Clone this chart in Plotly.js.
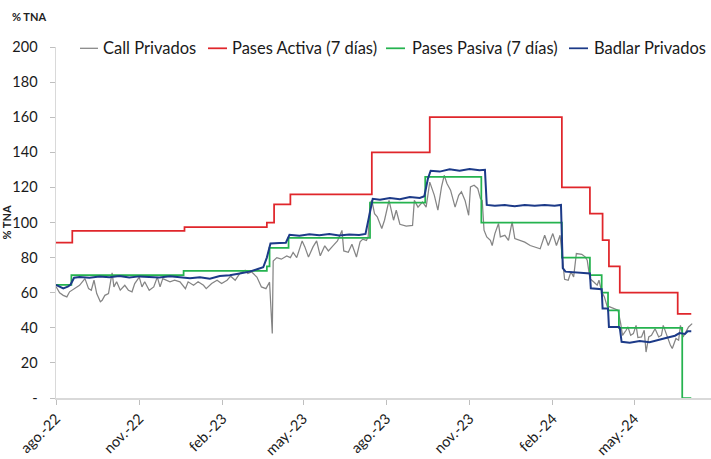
<!DOCTYPE html>
<html>
<head>
<meta charset="utf-8">
<script src="https://cdn.plot.ly/plotly-3.0.1.min.js"></script>
<style>html,body{margin:0;padding:0;background:#fff;}#chart{width:711px;height:459px;}</style>
</head>
<body>
<div id="chart"></div>
<script>
const seriesNames = ['Call Privados', 'Pases Activa (7 días)', 'Pases Pasiva (7 días)', 'Badlar Privados'];
const seriesColors = ['#858585', '#e0262b', '#25b34f', '#1c3a88'];

const callDates = ['2022-08-01','2022-08-03','2022-08-05','2022-08-09','2022-08-13','2022-08-16','2022-08-22','2022-08-27','2022-09-02','2022-09-06','2022-09-09','2022-09-12','2022-09-15','2022-09-19','2022-09-21','2022-09-24','2022-09-28','2022-10-02','2022-10-04','2022-10-07','2022-10-11','2022-10-16','2022-10-20','2022-10-24','2022-10-27','2022-11-01','2022-11-04','2022-11-07','2022-11-12','2022-11-17','2022-11-21','2022-11-24','2022-11-27','2022-12-01','2022-12-05','2022-12-10','2022-12-16','2022-12-22','2022-12-25','2022-12-31','2023-01-05','2023-01-11','2023-01-14','2023-01-20','2023-01-26','2023-01-31','2023-02-06','2023-02-10','2023-02-15','2023-02-20','2023-02-26','2023-03-01','2023-03-05','2023-03-11','2023-03-16','2023-03-21','2023-03-25','2023-03-28','2023-03-29','2023-04-02','2023-04-07','2023-04-13','2023-04-17','2023-04-20','2023-04-24','2023-04-30','2023-05-03','2023-05-07','2023-05-12','2023-05-16','2023-05-20','2023-05-25','2023-05-29','2023-06-03','2023-06-08','2023-06-13','2023-06-15','2023-06-20','2023-06-24','2023-06-29','2023-07-03','2023-07-06','2023-07-10','2023-07-12','2023-07-14','2023-07-16','2023-07-19','2023-07-22','2023-07-27','2023-07-30','2023-08-04','2023-08-09','2023-08-12','2023-08-16','2023-08-23','2023-08-30','2023-09-01','2023-09-05','2023-09-10','2023-09-14','2023-09-18','2023-09-23','2023-09-27','2023-10-01','2023-10-04','2023-10-07','2023-10-11','2023-10-16','2023-10-20','2023-10-23','2023-10-27','2023-10-31','2023-11-02','2023-11-06','2023-11-10','2023-11-13','2023-11-15','2023-11-17','2023-11-20','2023-11-24','2023-11-26','2023-11-29','2023-12-03','2023-12-05','2023-12-10','2023-12-14','2023-12-18','2023-12-21','2023-12-27','2024-01-01','2024-01-07','2024-01-12','2024-01-18','2024-01-23','2024-01-27','2024-02-01','2024-02-05','2024-02-09','2024-02-12','2024-02-13','2024-02-14','2024-02-18','2024-02-21','2024-02-24','2024-02-27','2024-03-04','2024-03-08','2024-03-10','2024-03-13','2024-03-17','2024-03-21','2024-03-23','2024-03-26','2024-03-29','2024-04-01','2024-04-04','2024-04-09','2024-04-13','2024-04-16','2024-04-18','2024-04-22','2024-04-24','2024-04-27','2024-04-30','2024-05-03','2024-05-05','2024-05-09','2024-05-12','2024-05-14','2024-05-17','2024-05-20','2024-05-24','2024-05-28','2024-05-31','2024-06-02','2024-06-06','2024-06-10','2024-06-12','2024-06-16','2024-06-19','2024-06-21','2024-06-24','2024-06-26','2024-06-30','2024-07-04'];
const callValues = [63.5,62,60,58.5,57.6,60.5,62.3,64.2,68,62.3,61.4,67.1,59.5,54.8,55.7,58.5,59.5,71.3,63.3,66.2,61.4,64.2,61.4,60.5,65.2,68.9,63.3,66.2,61.4,63.3,68.9,63.3,68,67.1,66.2,67.1,66.2,62.3,66.2,64.2,66.2,64.2,62.3,65.2,67.1,65.2,67.1,69.4,67.1,70.9,72.8,70.9,71.9,68.9,63.3,62.3,66,36.7,78.1,80,79.1,81,80,82.9,80,89.5,86.1,80.3,86.1,89.5,81,86.7,83.8,86.7,89.5,95.5,83.8,83,87.6,80.3,89,90.5,89.8,92,110.8,112.6,105,103.2,96.6,101.3,112.6,101.3,107,99,97.9,98.3,112.6,108.8,111.7,108.8,123,115.6,107,120.3,126.9,122.2,118.4,108.8,115.5,117.5,112.6,104.1,120.3,121.2,119.4,113.7,112.6,95.6,91.8,89.8,86.9,93.7,99.4,91.8,92.7,89.8,100.3,90.8,89.8,88.8,86.9,86,85,92.7,86.9,93.7,86.9,92.7,76.6,69.5,67.6,67.1,71.9,69,82.3,81.9,80.3,78.5,68,66.2,64.3,67.1,60.5,57.6,52.3,51.9,51,50,42.4,35.7,38.6,40.5,35.7,36.7,41.4,34.4,34.8,38.6,26.2,34.8,35.7,39.5,34.8,35.7,41.4,35.1,30,28.2,33.9,32.9,41.4,34.8,36.7,40.5,42.4];

const activaDates = ['2022-08-01','2022-08-19','2022-12-21','2023-03-22','2023-03-30','2023-04-17','2023-07-16','2023-09-18','2024-02-11','2024-03-13','2024-03-27','2024-04-03','2024-04-15','2024-06-18','2024-07-03'];
const activaValues = [88.5,95.2,97.3,100,110.4,116,140,160,120,105,90,75,60,48,48];

const pasivaDates = ['2022-08-01','2022-08-18','2022-12-20','2023-03-22','2023-03-25','2023-04-15','2023-07-14','2023-09-13','2023-11-14','2024-02-11','2024-03-13','2024-03-26','2024-04-02','2024-04-14','2024-06-23','2024-07-03'];
const pasivaValues = [64.5,70,72.4,75,85.5,91.2,111.3,126,100,80,70,60,50,40,0,0];

const badlarDates = ['2022-08-01','2022-08-05','2022-08-09','2022-08-14','2022-08-17','2022-08-21','2022-08-27','2022-09-07','2022-09-18','2022-09-29','2022-10-10','2022-10-21','2022-11-01','2022-11-12','2022-11-23','2022-12-05','2022-12-16','2022-12-27','2023-01-07','2023-01-18','2023-01-29','2023-02-09','2023-02-20','2023-03-03','2023-03-12','2023-03-18','2023-03-22','2023-03-26','2023-04-05','2023-04-12','2023-04-16','2023-04-27','2023-05-08','2023-05-19','2023-05-30','2023-06-10','2023-06-21','2023-07-02','2023-07-09','2023-07-14','2023-07-17','2023-07-25','2023-08-05','2023-08-16','2023-08-27','2023-09-07','2023-09-12','2023-09-16','2023-09-19','2023-09-29','2023-10-10','2023-10-21','2023-11-01','2023-11-12','2023-11-18','2023-11-20','2023-11-29','2023-12-10','2023-12-21','2024-01-01','2024-01-12','2024-01-23','2024-02-03','2024-02-10','2024-02-12','2024-02-15','2024-02-25','2024-03-07','2024-03-13','2024-03-14','2024-03-24','2024-03-26','2024-03-27','2024-04-02','2024-04-03','2024-04-14','2024-04-15','2024-04-17','2024-04-26','2024-05-07','2024-05-18','2024-05-29','2024-06-06','2024-06-15','2024-06-20','2024-06-26','2024-06-29','2024-07-03'];
const badlarValues = [64.5,63.5,62.5,63.5,64.5,68.5,69,68.5,69.2,68.8,69.5,68.7,69.3,69,68.6,69.4,69,68.2,68.8,68,69.5,70,71,72,73.5,74.5,80,88,88.3,88.5,93,92.5,93.3,92.8,93.5,92.6,93.2,92.9,93.5,105,113.5,113,114,113.3,114.5,114,115,125,129.5,129,130.3,129.5,130.5,129.8,130,110,109.5,110,109.2,110,109.5,110,109.6,110,74,72,71.5,71.2,71,62.5,62.2,62,51,51,40.5,40.5,40,32,31.5,32.5,31.8,33,34.3,35.5,37,36.5,38,38];

const tickDates = ['2022-08-01','2022-11-01','2023-02-01','2023-05-01','2023-08-01','2023-11-01','2024-02-01','2024-05-01'];
const tickLabels = ['ago.-22','nov.-22','feb.-23','may.-23','ago.-23','nov.-23','feb.-24','may.-24'];
const yTicks = [0,20,40,60,80,100,120,140,160,180,200];
const yTickLabels = ['-','20','40','60','80','100','120','140','160','180','200'];

const FONT = 'Lato, "Open Sans", sans-serif';

const traces = [
  {x: callDates, y: callValues, name: seriesNames[0], type: 'scatter', mode: 'lines', line: {color: seriesColors[0], width: 1.25}, showlegend: false},
  {x: activaDates, y: activaValues, name: seriesNames[1], type: 'scatter', mode: 'lines', line: {color: seriesColors[1], width: 1.75, shape: 'hv'}, showlegend: false},
  {x: pasivaDates, y: pasivaValues, name: seriesNames[2], type: 'scatter', mode: 'lines', line: {color: seriesColors[2], width: 1.75, shape: 'hv'}, showlegend: false},
  {x: badlarDates, y: badlarValues, name: seriesNames[3], type: 'scatter', mode: 'lines', line: {color: seriesColors[3], width: 2}, showlegend: false}
];

// custom legend (paper coordinates)
const legendLineX = [[0.0366, 0.0641], [0.2321, 0.2611], [0.5038, 0.5328], [0.7832, 0.8122]];
const legendTextX = [0.0687, 0.2656, 0.5405, 0.8180];
const legendY = 0.9963;

const shapes = legendLineX.map((p, i) => ({type: 'line', xref: 'paper', yref: 'paper', x0: p[0], x1: p[1], y0: legendY, y1: legendY, line: {color: seriesColors[i], width: i === 0 ? 1.25 : 1.75}}));
const annotations = seriesNames.map((n, i) => ({xref: 'paper', yref: 'paper', x: legendTextX[i], y: legendY, xanchor: 'left', yanchor: 'middle', text: n, showarrow: false, font: {family: FONT, size: 16.5, color: '#1a1a1a'}}));
annotations.push({xref: 'paper', yref: 'paper', x: -0.0702, y: 1.0875, xanchor: 'left', yanchor: 'middle', text: '<b>% TNA</b>', showarrow: false, font: {family: FONT, size: 11, color: '#222'}});
annotations.push({xref: 'paper', yref: 'paper', x: -0.0763, y: 0.5, xanchor: 'center', yanchor: 'middle', textangle: -90, text: '<b>% TNA</b>', showarrow: false, font: {family: FONT, size: 11, color: '#222'}});

const layout = {
  width: 711, height: 459,
  margin: {l: 56, r: 0, t: 46.7, b: 61.3},
  paper_bgcolor: '#ffffff', plot_bgcolor: '#ffffff',
  showlegend: false,
  xaxis: {
    type: 'date', range: ['2022-08-01', '2024-07-24 19:00'],
    tickmode: 'array', tickvals: tickDates, ticktext: tickLabels, tickangle: -45,
    ticks: 'outside', ticklen: 5, tickcolor: '#bfbfbf', tickwidth: 1,
    showline: true, linecolor: '#d9d9d9', linewidth: 1.5,
    showgrid: false, zeroline: false,
    tickfont: {family: FONT, size: 14.5, color: '#1a1a1a'}
  },
  yaxis: {
    range: [0, 200],
    tickmode: 'array', tickvals: yTicks, ticktext: yTickLabels,
    ticks: 'outside', ticklen: 5, tickcolor: '#bfbfbf', tickwidth: 1,
    ticklabelstandoff: 9,
    showline: true, linecolor: '#d9d9d9', linewidth: 1.5,
    showgrid: false, zeroline: false,
    tickfont: {family: FONT, size: 14.5, color: '#1a1a1a'}
  },
  shapes: shapes,
  annotations: annotations
};

Plotly.newPlot('chart', traces, layout, {displayModeBar: false, staticPlot: true});
</script>
</body>
</html>
